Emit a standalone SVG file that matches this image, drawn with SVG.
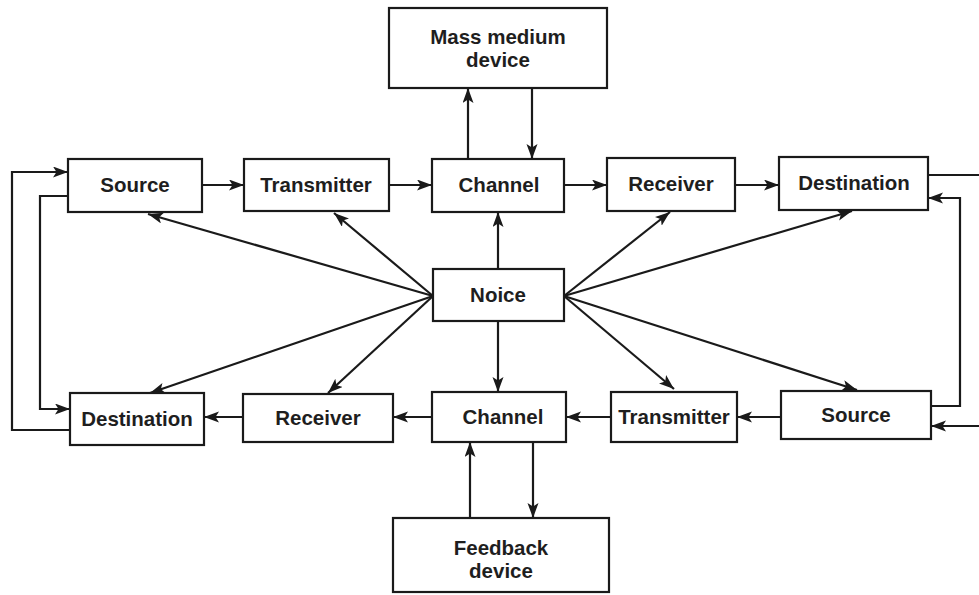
<svg xmlns="http://www.w3.org/2000/svg" width="979" height="595" viewBox="0 0 979 595">
<style>
.box{fill:#fff;stroke:#1a1a1a;stroke-width:2.2}
.t{font-family:"Liberation Sans",Arial,sans-serif;font-weight:bold;font-size:20.5px;fill:#1e1e1e;text-anchor:middle}
.c{fill:none;stroke:#1a1a1a;stroke-width:2.2}
.a{marker-end:url(#ah)}
</style>
<defs>
<marker id="ah" markerUnits="userSpaceOnUse" markerWidth="16" markerHeight="12" refX="15" refY="5.5" orient="auto">
<path d="M0,0 L15,5.5 L0,11 L3.5,5.5 z" fill="#1a1a1a"/>
</marker>
</defs>
<rect width="979" height="595" fill="#fff"/>
<g id="connectors">
<path class="c a" d="M202,185 H244"/>
<path class="c a" d="M389,185 H432"/>
<path class="c a" d="M564,185 H607"/>
<path class="c a" d="M735,185 H779"/>
<path class="c a" d="M781,417 H737"/>
<path class="c a" d="M611,417 H566"/>
<path class="c a" d="M432,417 H393"/>
<path class="c a" d="M243,417 H204"/>
<path class="c a" d="M468,159 V88"/>
<path class="c a" d="M532,88 V159"/>
<path class="c a" d="M470,518 V442"/>
<path class="c a" d="M533,442 V518"/>
<path class="c a" d="M498,269 V212"/>
<path class="c a" d="M498,321 V392"/>
<path class="c a" d="M433,296 L148,214"/>
<path class="c a" d="M433,296 L334,213"/>
<path class="c a" d="M433,296 L150,393"/>
<path class="c a" d="M433,296 L328,393"/>
<path class="c a" d="M564,296 L670,212"/>
<path class="c a" d="M564,296 L852,211"/>
<path class="c a" d="M564,296 L674,389"/>
<path class="c a" d="M564,296 L857,390"/>
<path class="c a" d="M70,430 H12 V172 H68"/>
<path class="c a" d="M68,196 H40 V409 H70"/>
<path class="c" d="M928,175 H979"/>
<path class="c a" d="M931,406 H960 V198 H928"/>
<path class="c a" d="M979,426 H931"/>
</g>
<g id="mass-medium-device"><rect class="box" x="389" y="8" width="218" height="80"/><text class="t" x="498" y="44">Mass medium</text><text class="t" x="498" y="67">device</text></g>
<g id="source-top"><rect class="box" x="68" y="159" width="134" height="53"/><text class="t" x="135" y="192">Source</text></g>
<g id="transmitter-top"><rect class="box" x="244" y="159" width="145" height="52"/><text class="t" x="316" y="192">Transmitter</text></g>
<g id="channel-top"><rect class="box" x="432" y="159" width="132" height="53"/><text class="t" x="499" y="192">Channel</text></g>
<g id="receiver-top"><rect class="box" x="607" y="158" width="128" height="53"/><text class="t" x="671" y="191">Receiver</text></g>
<g id="destination-top"><rect class="box" x="779" y="157" width="149" height="53"/><text class="t" x="854" y="190">Destination</text></g>
<g id="noice"><rect class="box" x="433" y="269" width="131" height="52"/><text class="t" x="498" y="302">Noice</text></g>
<g id="destination-bottom"><rect class="box" x="70" y="393" width="134" height="52"/><text class="t" x="137" y="426">Destination</text></g>
<g id="receiver-bottom"><rect class="box" x="243" y="394" width="150" height="48"/><text class="t" x="318" y="425">Receiver</text></g>
<g id="channel-bottom"><rect class="box" x="432" y="392" width="134" height="50"/><text class="t" x="503" y="424">Channel</text></g>
<g id="transmitter-bottom"><rect class="box" x="611" y="392" width="126" height="50"/><text class="t" x="674" y="424">Transmitter</text></g>
<g id="source-bottom"><rect class="box" x="781" y="391" width="150" height="48"/><text class="t" x="856" y="422">Source</text></g>
<g id="feedback-device"><rect class="box" x="393" y="518" width="216" height="74"/><text class="t" x="501" y="555">Feedback</text><text class="t" x="501" y="578">device</text></g>
</svg>
